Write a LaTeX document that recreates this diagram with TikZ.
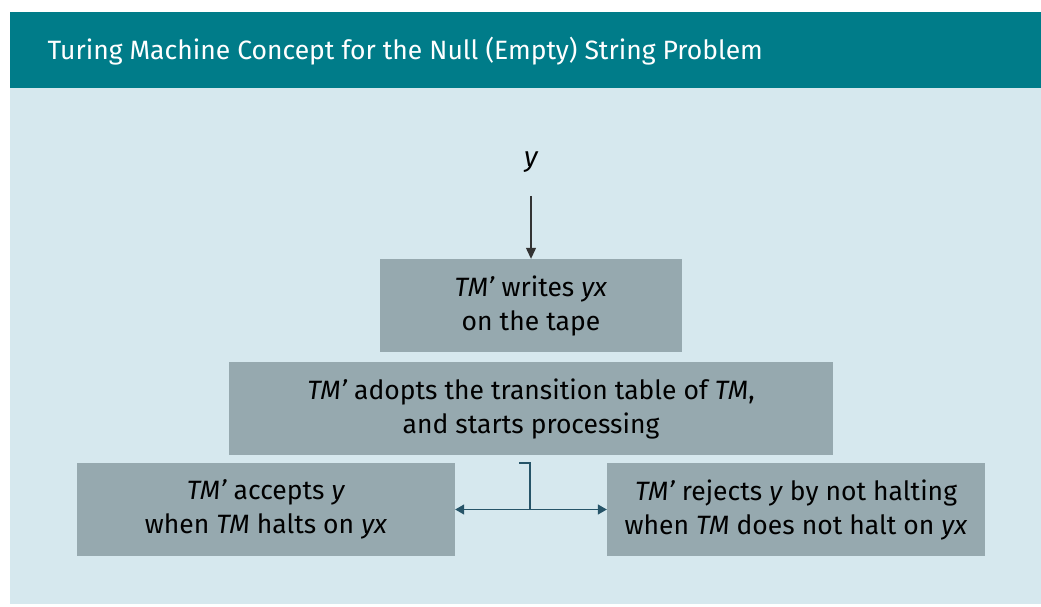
\documentclass[tikz,border=0pt]{standalone}
\usepackage{fontspec}
\setmainfont{Fira Sans}
\definecolor{titleteal}{RGB}{0, 124, 137}
\definecolor{panelblue}{RGB}{214, 232, 238}
\definecolor{boxgray}{RGB}{150, 169, 175}
\definecolor{linkblue}{RGB}{38, 84, 104}
\usetikzlibrary{arrows.meta, positioning}

\begin{document}
\begin{tikzpicture}[
  x=1pt, y=-1pt,
  tmbox/.style={fill=boxgray, minimum height=93pt, align=center, inner sep=4pt, font=\fontsize{26.5}{34}\selectfont},
  link/.style={draw=linkblue, line width=1.3pt}
]
  \useasboundingbox (0,0) rectangle (1041,606);
  \fill[white] (0,0) rectangle (1041,606);
  \fill[panelblue] (10,88) rectangle (1041,604);
  \fill[titleteal] (10,12) rectangle (1041,88);
  \node[anchor=west, text=white, font=\fontsize{26.5}{30}\selectfont] (title) at (44,51) {Turing Machine Concept for the Null (Empty) String Problem};

  \node[font=\fontsize{28}{30}\selectfont\itshape] (input) at (531,162) {y};
  \node[tmbox, minimum width=302pt] (write) at (531,305.5) {\textit{TM’} writes \textit{yx}\\on the tape};
  \node[tmbox, minimum width=604pt] (adopt) at (531,408.5) {\textit{TM’} adopts the transition table of \textit{TM},\\and starts processing};
  \node[tmbox, minimum width=378pt] (accept) at (266,509.5) {\textit{TM’} accepts \textit{y}\\when \textit{TM} halts on \textit{yx}};
  \node[tmbox, minimum width=378pt] (reject) at (796,509.5) {\textit{TM’} rejects \textit{y} by not halting\\when \textit{TM} does not halt on \textit{yx}};

  \draw[line width=1.2pt, black!80, shorten <=20pt, -{Triangle[width=10pt, length=11pt]}] (input) -- (write);

  % split below the processing box
  \coordinate (tick) at (519,463);
  \coordinate (split) at (530,510);
  \draw[link] (tick) -| (split);
  \draw[link, {Triangle[width=10pt, length=9pt]}-{Triangle[width=10pt, length=9pt]}] (accept.east) -- (reject.west);
\end{tikzpicture}
\end{document}
